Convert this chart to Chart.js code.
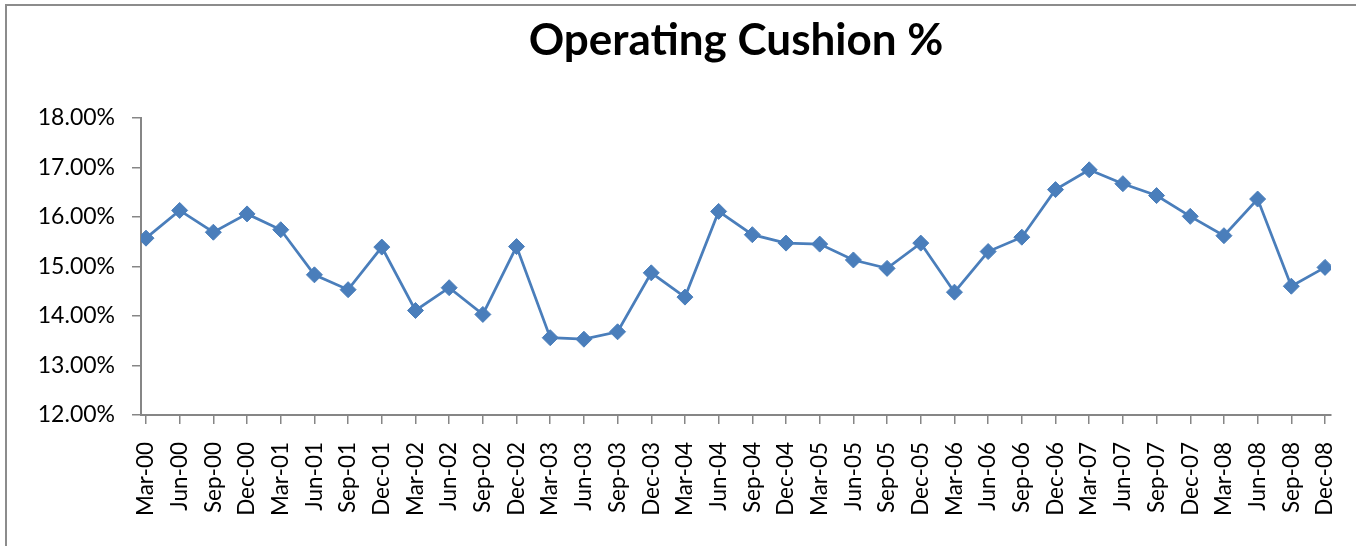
<!DOCTYPE html>
<html>
<head>
<meta charset="utf-8">
<script src="https://cdn.jsdelivr.net/npm/chart.js@4"></script>
<style>
  html, body { margin: 0; padding: 0; background: #fff; }
  #wrap { position: relative; width: 1356px; height: 546px; overflow: hidden; }
  #frame { position: absolute; left: 5px; top: 4px; width: 1400px; height: 600px;
           border-top: 2px solid #8c8c8c; border-left: 2px solid #8c8c8c; }
  #opChart { position: absolute; left: 0; top: 0; }
</style>
</head>
<body>
<div id="wrap">
  <div id="frame"></div>
  <canvas id="opChart" width="1356" height="546"></canvas>
</div>
<script>
const quarters = [
  'Mar-00', 'Jun-00', 'Sep-00', 'Dec-00',
  'Mar-01', 'Jun-01', 'Sep-01', 'Dec-01',
  'Mar-02', 'Jun-02', 'Sep-02', 'Dec-02',
  'Mar-03', 'Jun-03', 'Sep-03', 'Dec-03',
  'Mar-04', 'Jun-04', 'Sep-04', 'Dec-04',
  'Mar-05', 'Jun-05', 'Sep-05', 'Dec-05',
  'Mar-06', 'Jun-06', 'Sep-06', 'Dec-06',
  'Mar-07', 'Jun-07', 'Sep-07', 'Dec-07',
  'Mar-08', 'Jun-08', 'Sep-08', 'Dec-08'
];

// operating cushion, in percent
const cushion = [
  15.57, 16.13, 15.69, 16.06,
  15.74, 14.83, 14.53, 15.39,
  14.11, 14.57, 14.03, 15.40,
  13.56, 13.53, 13.68, 14.87,
  14.38, 16.11, 15.64, 15.47,
  15.45, 15.13, 14.96, 15.47,
  14.48, 15.30, 15.59, 16.55,
  16.95, 16.67, 16.43, 16.01,
  15.62, 16.36, 14.60, 14.98
];

const yTicks = [12, 13, 14, 15, 16, 17, 18];

const axisGrey = '#868686';
const lineBlue = '#4a7ebb';
const fontFamily = 'Lato, "Open Sans", sans-serif';

document.addEventListener('DOMContentLoaded', () => {
  const ctx = document.getElementById('opChart').getContext('2d');
  new Chart(ctx, {
    type: 'line',
    data: {
      datasets: [{
        label: 'Operating Cushion %',
        data: cushion.map((v, i) => ({ x: i, y: v })),
        borderColor: lineBlue,
        backgroundColor: lineBlue,
        borderWidth: 2.75,
        pointStyle: 'rectRot',
        pointRadius: 8,
        pointBorderWidth: 1,
        pointBackgroundColor: lineBlue,
        pointBorderColor: lineBlue,
        tension: 0
      }]
    },
    options: {
      responsive: false,
      animation: false,
      layout: { padding: { left: 0, right: 25, top: 0, bottom: 0 } },
      plugins: {
        legend: { display: false },
        tooltip: { enabled: false },
        title: {
          display: true,
          text: 'Operating Cushion %',
          color: '#000',
          fullSize: false,
          font: { family: fontFamily, size: 44, weight: 'bold' },
          padding: { top: 14, bottom: 51 }
        }
      },
      scales: {
        x: {
          type: 'linear',
          min: -0.148,
          max: 35.178,
          afterBuildTicks: s => { s.ticks = quarters.map((q, i) => ({ value: i })); },
          afterFit: s => { s.height = 131; s.paddingLeft = 0; s.paddingRight = 0; },
          ticks: {
            autoSkip: false,
            minRotation: 90,
            maxRotation: 90,
            padding: 18,
            color: '#000',
            font: { family: fontFamily, size: 22.5 },
            callback: v => quarters[v]
          },
          grid: { drawOnChartArea: false, drawTicks: true, tickLength: 9, color: axisGrey, lineWidth: 1.5 },
          border: { color: axisGrey, width: 2 }
        },
        y: {
          min: yTicks[0],
          max: yTicks[yTicks.length - 1],
          afterBuildTicks: s => { s.ticks = yTicks.map(v => ({ value: v })); },
          afterFit: s => { s.width = 141; },
          ticks: {
            padding: 17,
            color: '#000',
            font: { family: fontFamily, size: 23 },
            callback: v => v.toFixed(2) + '%'
          },
          grid: { drawOnChartArea: false, drawTicks: true, tickLength: 9, color: axisGrey, lineWidth: 1.5 },
          border: { color: axisGrey, width: 2 }
        }
      }
    }
  });
});
</script>
</body>
</html>
